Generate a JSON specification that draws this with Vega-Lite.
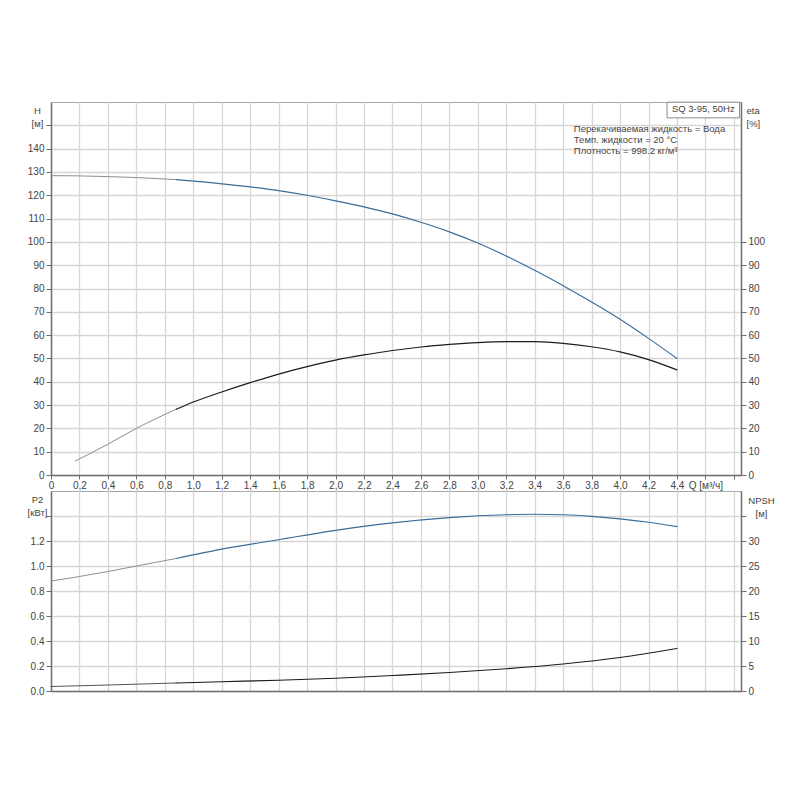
{
  "$schema": "https://vega.github.io/schema/vega-lite/v6.json",
  "background": "white",
  "padding": {"left": 26, "top": 101, "right": 5, "bottom": 5},
  "spacing": -2,
  "datasets": {
    "curves": [
      {"curve": "H", "k": "gray", "q": 0, "v": 128.4},
      {"curve": "H", "k": "gray", "q": 0.2, "v": 128.3},
      {"curve": "H", "k": "gray", "q": 0.4, "v": 128.0},
      {"curve": "H", "k": "gray", "q": 0.6, "v": 127.6},
      {"curve": "H", "k": "gray", "q": 0.88, "v": 126.7},
      {"curve": "H", "k": "blue", "q": 0.88, "v": 126.7},
      {"curve": "H", "k": "blue", "q": 1.2, "v": 124.9},
      {"curve": "H", "k": "blue", "q": 1.6, "v": 122.0},
      {"curve": "H", "k": "blue", "q": 1.8, "v": 120.0},
      {"curve": "H", "k": "blue", "q": 2.0, "v": 117.6},
      {"curve": "H", "k": "blue", "q": 2.2, "v": 115.0},
      {"curve": "H", "k": "blue", "q": 2.4, "v": 112.0},
      {"curve": "H", "k": "blue", "q": 2.6, "v": 108.4},
      {"curve": "H", "k": "blue", "q": 2.8, "v": 104.3},
      {"curve": "H", "k": "blue", "q": 3.0, "v": 99.5},
      {"curve": "H", "k": "blue", "q": 3.2, "v": 93.9},
      {"curve": "H", "k": "blue", "q": 3.4, "v": 87.8},
      {"curve": "H", "k": "blue", "q": 3.6, "v": 81.2},
      {"curve": "H", "k": "blue", "q": 3.8, "v": 74.2},
      {"curve": "H", "k": "blue", "q": 4.0, "v": 66.8},
      {"curve": "H", "k": "blue", "q": 4.2, "v": 58.6},
      {"curve": "H", "k": "blue", "q": 4.4, "v": 50.0},
      {"curve": "eta", "k": "gray", "q": 0.17, "v": 6.0},
      {"curve": "eta", "k": "gray", "q": 0.4, "v": 13.2},
      {"curve": "eta", "k": "gray", "q": 0.6, "v": 20.0},
      {"curve": "eta", "k": "gray", "q": 0.88, "v": 28.2},
      {"curve": "eta", "k": "black", "q": 0.88, "v": 28.2},
      {"curve": "eta", "k": "black", "q": 1.0, "v": 31.3},
      {"curve": "eta", "k": "black", "q": 1.2, "v": 35.6},
      {"curve": "eta", "k": "black", "q": 1.4, "v": 39.6},
      {"curve": "eta", "k": "black", "q": 1.6, "v": 43.3},
      {"curve": "eta", "k": "black", "q": 1.8, "v": 46.5},
      {"curve": "eta", "k": "black", "q": 2.0, "v": 49.3},
      {"curve": "eta", "k": "black", "q": 2.2, "v": 51.5},
      {"curve": "eta", "k": "black", "q": 2.4, "v": 53.4},
      {"curve": "eta", "k": "black", "q": 2.6, "v": 54.9},
      {"curve": "eta", "k": "black", "q": 2.8, "v": 56.0},
      {"curve": "eta", "k": "black", "q": 3.0, "v": 56.8},
      {"curve": "eta", "k": "black", "q": 3.2, "v": 57.2},
      {"curve": "eta", "k": "black", "q": 3.4, "v": 57.2},
      {"curve": "eta", "k": "black", "q": 3.6, "v": 56.5},
      {"curve": "eta", "k": "black", "q": 3.8, "v": 55.0},
      {"curve": "eta", "k": "black", "q": 4.0, "v": 52.8},
      {"curve": "eta", "k": "black", "q": 4.2, "v": 49.5},
      {"curve": "eta", "k": "black", "q": 4.4, "v": 45.1},
      {"curve": "P2", "k": "gray", "q": 0, "v": 0.88},
      {"curve": "P2", "k": "gray", "q": 0.2, "v": 0.916},
      {"curve": "P2", "k": "gray", "q": 0.4, "v": 0.956},
      {"curve": "P2", "k": "gray", "q": 0.6, "v": 1.0},
      {"curve": "P2", "k": "gray", "q": 0.88, "v": 1.06},
      {"curve": "P2", "k": "blue", "q": 0.88, "v": 1.06},
      {"curve": "P2", "k": "blue", "q": 1.2, "v": 1.135},
      {"curve": "P2", "k": "blue", "q": 1.6, "v": 1.21},
      {"curve": "P2", "k": "blue", "q": 2.0, "v": 1.285},
      {"curve": "P2", "k": "blue", "q": 2.4, "v": 1.345},
      {"curve": "P2", "k": "blue", "q": 2.8, "v": 1.387},
      {"curve": "P2", "k": "blue", "q": 3.2, "v": 1.41},
      {"curve": "P2", "k": "blue", "q": 3.4, "v": 1.414},
      {"curve": "P2", "k": "blue", "q": 3.6, "v": 1.41},
      {"curve": "P2", "k": "blue", "q": 3.8, "v": 1.397},
      {"curve": "P2", "k": "blue", "q": 4.0, "v": 1.377},
      {"curve": "P2", "k": "blue", "q": 4.2, "v": 1.35},
      {"curve": "P2", "k": "blue", "q": 4.4, "v": 1.315},
      {"curve": "NPSH", "k": "dark", "q": 0, "v": 0.9},
      {"curve": "NPSH", "k": "dark", "q": 0.4, "v": 1.2},
      {"curve": "NPSH", "k": "dark", "q": 0.88, "v": 1.6},
      {"curve": "NPSH", "k": "black", "q": 0.88, "v": 1.6},
      {"curve": "NPSH", "k": "black", "q": 1.2, "v": 1.85},
      {"curve": "NPSH", "k": "black", "q": 1.6, "v": 2.15},
      {"curve": "NPSH", "k": "black", "q": 2.0, "v": 2.55},
      {"curve": "NPSH", "k": "black", "q": 2.4, "v": 3.1},
      {"curve": "NPSH", "k": "black", "q": 2.8, "v": 3.7},
      {"curve": "NPSH", "k": "black", "q": 3.2, "v": 4.45},
      {"curve": "NPSH", "k": "black", "q": 3.6, "v": 5.4},
      {"curve": "NPSH", "k": "black", "q": 4.0, "v": 6.7},
      {"curve": "NPSH", "k": "black", "q": 4.4, "v": 8.5}
    ],
    "notes": [
      {"q": 3.675, "v": 148.4, "text": "Перекачиваемая жидкость = Вода"},
      {"q": 3.675, "v": 143.7, "text": "Темп. жидкости = 20 °C"},
      {"q": 3.675, "v": 139.1, "text": "Плотность = 998.2 кг/м³"}
    ],
    "box": [
      {"q": 4.33, "q2": 4.84, "qt": 4.585, "v": 153.2, "v2": 159.9, "vt": 156.9, "text": "SQ 3-95, 50Hz"}
    ]
  },
  "vconcat": [
    {
      "width": 690,
      "height": 373,
      "layer": [
        {
          "layer": [
            {
              "data": {"name": "curves"},
              "transform": [{"filter": "datum.curve == 'H'"}],
              "mark": {"type": "line", "interpolate": "monotone", "strokeCap": "round"},
              "encoding": {
                "x": {
                  "field": "q", "type": "quantitative",
                  "scale": {"domain": [0, 4.85], "nice": false, "zero": false},
                  "axis": {
                    "title": null,
                    "values": [0, 0.2, 0.4, 0.6, 0.8, 1.0, 1.2, 1.4, 1.6, 1.8, 2.0, 2.2, 2.4, 2.6, 2.8, 3.0, 3.2, 3.4, 3.6, 3.8, 4.0, 4.2, 4.4, 4.6, 4.8],
                    "labelExpr": "datum.value == 0 ? '0' : datum.value > 4.7 ? '' : datum.value > 4.5 ? 'Q [м³/ч]' : replace(format(datum.value, '.1f'), '.', ',')"
                  }
                },
                "y": {
                  "field": "v", "type": "quantitative",
                  "scale": {"domain": [0, 160], "nice": false},
                  "axis": {
                    "orient": "left",
                    "values": [0, 10, 20, 30, 40, 50, 60, 70, 80, 90, 100, 110, 120, 130, 140, 150],
                    "labelExpr": "datum.value > 145 ? '' : datum.label",
                    "title": ["H", "[м]"],
                    "titleAngle": 0, "titleAlign": "center", "titleBaseline": "top",
                    "titleX": -14, "titleY": 3, "titleLineHeight": 13
                  }
                },
                "color": {
                  "field": "k", "type": "nominal", "legend": null,
                  "scale": {"domain": ["gray", "dark", "blue", "black"], "range": ["#8e8e8e", "#555555", "#386c9b", "#1c1c1c"]}
                },
                "strokeWidth": {
                  "field": "k", "type": "ordinal", "legend": null,
                  "scale": {"domain": ["gray", "dark", "blue", "black"], "range": [1, 1.2, 2.8, 2.8]}
                }
              }
            },
            {
              "data": {"name": "box"},
              "mark": {"type": "rect", "fill": "white", "stroke": "#8a8a8a", "strokeWidth": 1},
              "encoding": {
                "x": {
                  "field": "q", "type": "quantitative",
                  "scale": {"domain": [0, 4.85], "nice": false, "zero": false},
                  "axis": {
                    "title": null,
                    "values": [0, 0.2, 0.4, 0.6, 0.8, 1.0, 1.2, 1.4, 1.6, 1.8, 2.0, 2.2, 2.4, 2.6, 2.8, 3.0, 3.2, 3.4, 3.6, 3.8, 4.0, 4.2, 4.4, 4.6, 4.8],
                    "labelExpr": "datum.value == 0 ? '0' : datum.value > 4.7 ? '' : datum.value > 4.5 ? 'Q [м³/ч]' : replace(format(datum.value, '.1f'), '.', ',')"
                  }
                },
                "x2": {"field": "q2"},
                "y": {
                  "field": "v", "type": "quantitative",
                  "scale": {"domain": [0, 160], "nice": false},
                  "axis": {
                    "orient": "left",
                    "values": [0, 10, 20, 30, 40, 50, 60, 70, 80, 90, 100, 110, 120, 130, 140, 150],
                    "labelExpr": "datum.value > 145 ? '' : datum.label",
                    "title": ["H", "[м]"],
                    "titleAngle": 0, "titleAlign": "center", "titleBaseline": "top",
                    "titleX": -14, "titleY": 3, "titleLineHeight": 13
                  }
                },
                "y2": {"field": "v2"}
              }
            },
            {
              "data": {"name": "box"},
              "mark": {"type": "text", "align": "center", "baseline": "middle", "fontSize": 9.5, "color": "#444"},
              "encoding": {
                "x": {
                  "field": "qt", "type": "quantitative",
                  "scale": {"domain": [0, 4.85], "nice": false, "zero": false},
                  "axis": {
                    "title": null,
                    "values": [0, 0.2, 0.4, 0.6, 0.8, 1.0, 1.2, 1.4, 1.6, 1.8, 2.0, 2.2, 2.4, 2.6, 2.8, 3.0, 3.2, 3.4, 3.6, 3.8, 4.0, 4.2, 4.4, 4.6, 4.8],
                    "labelExpr": "datum.value == 0 ? '0' : datum.value > 4.7 ? '' : datum.value > 4.5 ? 'Q [м³/ч]' : replace(format(datum.value, '.1f'), '.', ',')"
                  }
                },
                "y": {
                  "field": "vt", "type": "quantitative",
                  "scale": {"domain": [0, 160], "nice": false},
                  "axis": {
                    "orient": "left",
                    "values": [0, 10, 20, 30, 40, 50, 60, 70, 80, 90, 100, 110, 120, 130, 140, 150],
                    "labelExpr": "datum.value > 145 ? '' : datum.label",
                    "title": ["H", "[м]"],
                    "titleAngle": 0, "titleAlign": "center", "titleBaseline": "top",
                    "titleX": -14, "titleY": 3, "titleLineHeight": 13
                  }
                },
                "text": {"field": "text"}
              }
            },
            {
              "data": {"name": "notes"},
              "mark": {"type": "text", "align": "left", "baseline": "middle", "fontSize": 9.5, "color": "#444"},
              "encoding": {
                "x": {
                  "field": "q", "type": "quantitative",
                  "scale": {"domain": [0, 4.85], "nice": false, "zero": false},
                  "axis": {
                    "title": null,
                    "values": [0, 0.2, 0.4, 0.6, 0.8, 1.0, 1.2, 1.4, 1.6, 1.8, 2.0, 2.2, 2.4, 2.6, 2.8, 3.0, 3.2, 3.4, 3.6, 3.8, 4.0, 4.2, 4.4, 4.6, 4.8],
                    "labelExpr": "datum.value == 0 ? '0' : datum.value > 4.7 ? '' : datum.value > 4.5 ? 'Q [м³/ч]' : replace(format(datum.value, '.1f'), '.', ',')"
                  }
                },
                "y": {
                  "field": "v", "type": "quantitative",
                  "scale": {"domain": [0, 160], "nice": false},
                  "axis": {
                    "orient": "left",
                    "values": [0, 10, 20, 30, 40, 50, 60, 70, 80, 90, 100, 110, 120, 130, 140, 150],
                    "labelExpr": "datum.value > 145 ? '' : datum.label",
                    "title": ["H", "[м]"],
                    "titleAngle": 0, "titleAlign": "center", "titleBaseline": "top",
                    "titleX": -14, "titleY": 3, "titleLineHeight": 13
                  }
                },
                "text": {"field": "text"}
              }
            }
          ]
        },
        {
          "data": {"name": "curves"},
          "transform": [{"filter": "datum.curve == 'eta'"}],
          "mark": {"type": "line", "interpolate": "monotone", "strokeCap": "round"},
          "encoding": {
            "x": {
              "field": "q", "type": "quantitative",
              "scale": {"domain": [0, 4.85], "nice": false, "zero": false},
              "axis": {
                "title": null,
                "values": [0, 0.2, 0.4, 0.6, 0.8, 1.0, 1.2, 1.4, 1.6, 1.8, 2.0, 2.2, 2.4, 2.6, 2.8, 3.0, 3.2, 3.4, 3.6, 3.8, 4.0, 4.2, 4.4, 4.6, 4.8],
                "labelExpr": "datum.value == 0 ? '0' : datum.value > 4.7 ? '' : datum.value > 4.5 ? 'Q [м³/ч]' : replace(format(datum.value, '.1f'), '.', ',')"
              }
            },
            "y": {
              "field": "v", "type": "quantitative",
              "scale": {"domain": [0, 160], "nice": false},
              "axis": {
                "orient": "right", "grid": false,
                "values": [0, 10, 20, 30, 40, 50, 60, 70, 80, 90, 100],
                "title": ["eta", "[%]"],
                "titleAngle": 0, "titleAlign": "left", "titleBaseline": "top",
                "titleX": 5, "titleY": 3, "titleLineHeight": 13
              }
            },
            "color": {"field": "k", "type": "nominal", "legend": null},
            "strokeWidth": {"field": "k", "type": "ordinal", "legend": null}
          }
        }
      ],
      "resolve": {"scale": {"y": "independent"}}
    },
    {
      "width": 690,
      "height": 200,
      "layer": [
        {
          "data": {"name": "curves"},
          "transform": [{"filter": "datum.curve == 'P2'"}],
          "mark": {"type": "line", "interpolate": "monotone", "strokeCap": "round"},
          "encoding": {
            "x": {
              "field": "q", "type": "quantitative",
              "scale": {"domain": [0, 4.85], "nice": false, "zero": false},
              "axis": {
                "title": null, "labels": false, "ticks": false,
                "values": [0, 0.2, 0.4, 0.6, 0.8, 1.0, 1.2, 1.4, 1.6, 1.8, 2.0, 2.2, 2.4, 2.6, 2.8, 3.0, 3.2, 3.4, 3.6, 3.8, 4.0, 4.2, 4.4, 4.6, 4.8]
              }
            },
            "y": {
              "field": "v", "type": "quantitative",
              "scale": {"domain": [0, 1.6], "nice": false},
              "axis": {
                "orient": "left",
                "values": [0, 0.2, 0.4, 0.6, 0.8, 1.0, 1.2, 1.4],
                "labelExpr": "datum.value > 1.3 ? '' : format(datum.value, '.1f')",
                "title": ["P2", "[кВт]"],
                "titleAngle": 0, "titleAlign": "center", "titleBaseline": "top",
                "titleX": -14, "titleY": 3, "titleLineHeight": 13
              }
            },
            "color": {"field": "k", "type": "nominal", "legend": null},
            "strokeWidth": {"field": "k", "type": "ordinal", "legend": null}
          }
        },
        {
          "data": {"name": "curves"},
          "transform": [{"filter": "datum.curve == 'NPSH'"}],
          "mark": {"type": "line", "interpolate": "monotone", "strokeCap": "round"},
          "encoding": {
            "x": {
              "field": "q", "type": "quantitative",
              "scale": {"domain": [0, 4.85], "nice": false, "zero": false},
              "axis": {
                "title": null, "labels": false, "ticks": false,
                "values": [0, 0.2, 0.4, 0.6, 0.8, 1.0, 1.2, 1.4, 1.6, 1.8, 2.0, 2.2, 2.4, 2.6, 2.8, 3.0, 3.2, 3.4, 3.6, 3.8, 4.0, 4.2, 4.4, 4.6, 4.8]
              }
            },
            "y": {
              "field": "v", "type": "quantitative",
              "scale": {"domain": [0, 40], "nice": false},
              "axis": {
                "orient": "right", "grid": false,
                "values": [0, 5, 10, 15, 20, 25, 30, 35],
                "labelExpr": "datum.value > 32 ? '' : datum.label",
                "title": ["NPSH", "[м]"],
                "titleAngle": 0, "titleAlign": "center", "titleBaseline": "top",
                "titleX": 20, "titleY": 4, "titleLineHeight": 13
              }
            },
            "color": {"field": "k", "type": "nominal", "legend": null},
            "strokeWidth": {"field": "k", "type": "ordinal", "legend": null}
          }
        }
      ],
      "resolve": {"scale": {"y": "independent"}}
    }
  ],
  "config": {
    "font": "Liberation Sans",
    "view": {"stroke": "#a8a8a8", "strokeWidth": 1},
    "concat": {"spacing": -2},
    "axis": {
      "labelFont": "Liberation Sans",
      "labelFontSize": 10,
      "labelColor": "#444444",
      "labelOverlap": false,
      "labelFlush": false,
      "domainColor": "#707070",
      "domainWidth": 1.5,
      "tickColor": "#707070",
      "tickSize": 5,
      "gridColor": "#d6d6d6",
      "gridWidth": 1.3,
      "titleFont": "Liberation Sans",
      "titleFontSize": 9.5,
      "titleFontWeight": "normal",
      "titleColor": "#444444"
    },
    "axisX": {"tickSize": 4, "labelPadding": 1}
  }
}
